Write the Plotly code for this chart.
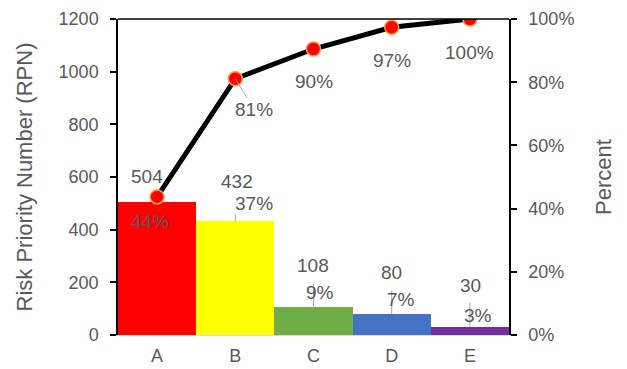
import plotly.graph_objects as go

# Pareto data: failure modes ranked by risk priority number
categories = ["A", "B", "C", "D", "E"]
rpn_values = [504, 432, 108, 80, 30]
share_pct = [44, 37, 9, 7, 3]
cumulative_pct = [43.7, 81.1, 90.5, 97.4, 100.0]
bar_colors = ["#FF0000", "#FFFF00", "#70AD47", "#4472C4", "#7030A0"]
left_ticks = [0, 200, 400, 600, 800, 1000, 1200]
right_ticks = [0, 20, 40, 60, 80, 100]

FONT = "Liberation Sans, Arial, sans-serif"
TXT = "#595959"

fig = go.Figure()

fig.add_trace(go.Bar(
    x=categories, y=rpn_values, marker=dict(color=bar_colors, line=dict(width=0)),
    width=1.0, yaxis="y", showlegend=False, hoverinfo="x+y",
))

fig.add_trace(go.Scatter(
    x=categories, y=cumulative_pct, yaxis="y2", mode="lines+markers",
    line=dict(color="black", width=5),
    marker=dict(size=14, color="#FF0000", line=dict(color="#F4A040", width=1.5)),
    showlegend=False,
))

annotations = []
lbl_font = dict(family=FONT, size=19, color=TXT)
leader = dict(arrowhead=0, arrowwidth=1, arrowcolor="#A6A6A6")

# vertical leader lines rising from the bar tops (length in px)
leader_len = [0, 9, 24, 25, 26]
for c, v, ln in zip(categories, rpn_values, leader_len):
    if ln:
        annotations.append(dict(x=c, y=v, xref="x", yref="y", text="",
                                showarrow=True, ax=0, ay=-ln, standoff=0,
                                startstandoff=0, **leader))

# value labels above each bar
value_offsets = [(-10, 26), (2, 40), (-1, 41), (0, 41), (1, 42)]
for c, v, (dx, dy) in zip(categories, rpn_values, value_offsets):
    annotations.append(dict(x=c, y=v, xref="x", yref="y", text=str(v),
                            showarrow=False, xshift=dx, yshift=dy, font=lbl_font))

# share-of-total labels
share_offsets = [(-7, -25), (19, 18), (6, 14), (9, 14), (8, 12)]
for i, (c, v, p, (dx, dy)) in enumerate(zip(categories, rpn_values, share_pct, share_offsets)):
    if i == 0:
        annotations.append(dict(x=c, y=cumulative_pct[0], xref="x", yref="y2",
                                text=f"{p}%", showarrow=False, xshift=dx, yshift=dy,
                                font=lbl_font))
    else:
        annotations.append(dict(x=c, y=v, xref="x", yref="y", text=f"{p}%",
                                showarrow=False, xshift=dx, yshift=dy, font=lbl_font))

# cumulative labels under the line points
cum_offsets = [None, (19, 31), (0, 32), (0, 33), (0, 33)]
for i, (c, v) in enumerate(zip(categories, cumulative_pct)):
    if i == 0:
        continue
    dx, dy = cum_offsets[i]
    if i == 1:
        annotations.append(dict(x=c, y=v, xref="x", yref="y2", text=f"{v:.0f}%",
                                showarrow=True, ax=dx, ay=dy, standoff=0, font=lbl_font,
                                **leader))
    else:
        annotations.append(dict(x=c, y=v, xref="x", yref="y2", text=f"{v:.0f}%",
                                showarrow=False, xshift=dx, yshift=-dy, font=lbl_font))

fig.update_layout(
    width=627, height=369,
    margin=dict(l=118, r=118, t=19, b=34),
    paper_bgcolor="white", plot_bgcolor="white",
    font=dict(family=FONT, size=18, color=TXT),
    bargap=0,
    xaxis=dict(
        showline=True, linecolor="#D9D9D9", linewidth=1, ticks="",
        tickfont=dict(size=18, color=TXT), showgrid=False, zeroline=False,
        ticklabelstandoff=4, automargin=False,
    ),
    yaxis=dict(
        range=[0, 1200], tickvals=left_ticks, showgrid=False, zeroline=False,
        showline=True, linecolor="black", linewidth=1.5,
        ticks="outside", ticklen=6, tickcolor="black", tickwidth=1.5,
        tickfont=dict(size=18, color=TXT), ticklabelstandoff=8, automargin=False,
        title=dict(text="Risk Priority Number (RPN)", font=dict(size=22, color=TXT),
                   standoff=20),
    ),
    yaxis2=dict(
        range=[0, 100], tickvals=right_ticks, ticktext=[f"{t}%" for t in right_ticks],
        overlaying="y", side="right", showgrid=False, zeroline=False,
        showline=True, linecolor="black", linewidth=1.5,
        ticks="outside", ticklen=6, tickcolor="black", tickwidth=1.5,
        tickfont=dict(size=18, color=TXT), ticklabelstandoff=8, automargin=False,
        title=dict(text="Percent", font=dict(size=22, color=TXT), standoff=22),
    ),
    annotations=annotations,
    shapes=[dict(type="line", xref="paper", yref="paper", x0=0, x1=1, y0=1, y1=1,
                 line=dict(color="black", width=1.5))],
)

fig.write_html("out.html")
